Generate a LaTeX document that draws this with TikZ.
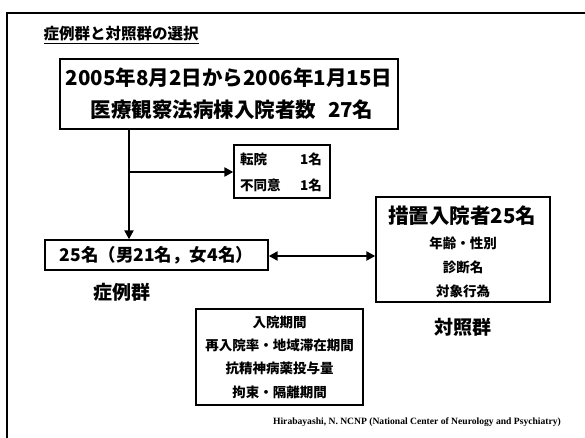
\documentclass[tikz,border=0pt]{standalone}
\usepackage{fontspec}
\setmainfont{Noto Sans CJK JP}
\newfontfamily\footfont{Liberation Serif}
\usetikzlibrary{arrows.meta}
\tikzset{
  box/.style={draw=black, line width=1.4pt, inner sep=0pt},
  conn/.style={line width=2.6pt, -{Triangle[length=9pt,width=9pt]}},
  big/.style={font=\bfseries\fontsize{20.5}{20.5}\selectfont, inner sep=0pt},
  mid/.style={font=\bfseries\fontsize{17.5}{17.5}\selectfont, inner sep=0pt},
  small/.style={font=\bfseries\fontsize{13.5}{13.5}\selectfont, inner sep=0pt},
  label/.style={font=\bfseries\fontsize{19}{19}\selectfont, inner sep=0pt},
}
\begin{document}
\begin{tikzpicture}[x=1pt,y=-1pt]
\useasboundingbox (0,0) rectangle (585,438);
% frame
\draw[line width=2.6pt] (7,438) -- (7,13) -- (585,13);
% title
\node[inner sep=0pt, font=\bfseries\fontsize{15.5}{15.5}\selectfont] (title) at (121,35) {\underline{症例群と対照群の選択}};
% box 1
\node[box, minimum width=338pt, minimum height=70pt] (b1) at (229,94) {};
\node[big] (b1a) at (229,78) {2005年8月2日から2006年1月15日};
\node[big] (b1b) at (232,110) {医療観察法病棟入院者数\hspace{12pt}27名};
% box 2
\node[box, minimum width=96pt, minimum height=53pt] (b2) at (282,171.5) {};
\node[small, anchor=west] (b2a) at (240,159) {転院};
\node[small, anchor=east] (b2c) at (322,159) {1名};
\node[small, anchor=west] (b2b) at (240,185) {不同意};
\node[small, anchor=east] (b2d) at (322,185) {1名};
% box 3
\node[box, minimum width=223pt, minimum height=30pt] (b3) at (156.5,255) {};
\node[mid] (b3t) at (156.5,255) {25名（男21名，女4名）};
\node[label] (case) at (122,292) {症例群};
% box 4
\node[box, minimum width=174pt, minimum height=105pt] (b4) at (463,249.5) {};
\node[big] (b4t) at (462,216) {措置入院者25名};
\node[small] (b4a) at (463,243) {年齢・性別};
\node[small] (b4b) at (463,267) {診断名};
\node[small] (b4c) at (463,291) {対象行為};
\node[label] (ctrl) at (463,327) {対照群};
% box 5
\node[box, minimum width=167pt, minimum height=96pt] (b5) at (279.5,357) {};
\node[small] (b5a) at (279.5,322) {入院期間};
\node[small] (b5b) at (279.5,345) {再入院率・地域滞在期間};
\node[small] (b5c) at (279.5,368) {抗精神病薬投与量};
\node[small] (b5d) at (279.5,392) {拘束・隔離期間};
% footer
\node[inner sep=0pt, font=\footfont\bfseries\fontsize{9.6}{9.6}\selectfont] (foot) at (417,422) {Hirabayashi, N. NCNP (National Center of Neurology and Psychiatry)};
% connectors
\coordinate (top) at (b1.south -| 129,0);
\coordinate (split) at (129,172);
\draw[conn] (top) -- (b3.north -| top);
\draw[conn] (split) -- (b2.west |- split);
\draw[line width=2.6pt, {Triangle[length=9pt,width=9pt]}-{Triangle[length=9pt,width=9pt]}] (b3.east |- 0,256) -- (b4.west |- 0,256);
\end{tikzpicture}
\end{document}
